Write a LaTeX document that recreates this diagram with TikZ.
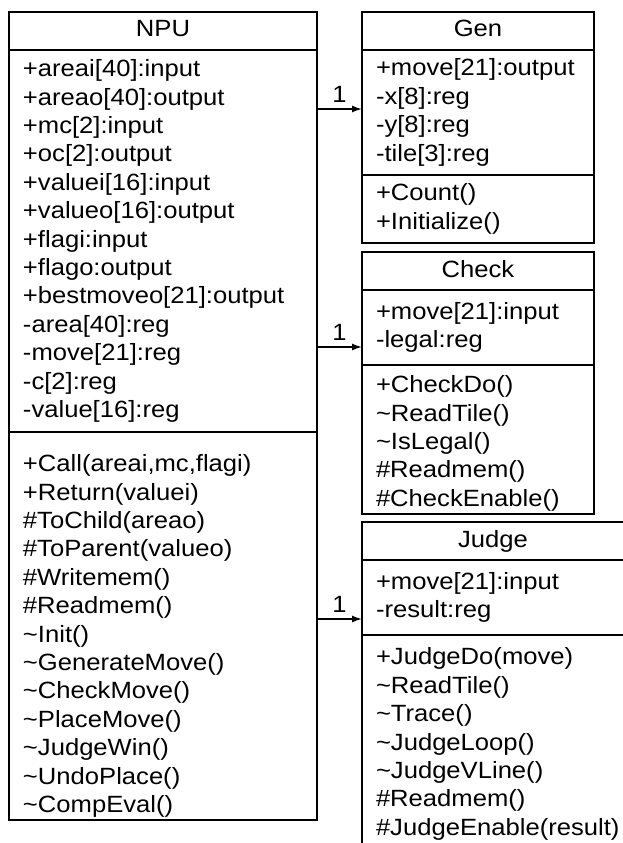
\documentclass[tikz,border=0pt]{standalone}
\usepackage{fontspec}
\setmainfont{Liberation Sans}[FakeStretch=1.09]
\usetikzlibrary{arrows.meta}
\newcommand{\rowfont}{\fontsize{23.5pt}{28.4pt}\selectfont}
\newcommand{\tld}{\textasciitilde}
\newcommand{\npux}{9}
\newcommand{\sidex}{362}

\tikzset{
  classpart/.style={draw, line width=1.8pt, anchor=north west, outer sep=0pt,
    inner xsep=14pt, inner ysep=0pt, align=left, font=\rowfont},
  classtitle/.style={classpart, align=center, text height=17pt, text depth=5pt,
    minimum height=38pt},
  assoc/.style={-{Latex[length=10pt,width=7pt]}, line width=1.5pt},
  mult/.style={above, inner sep=1pt, yshift=5pt, font=\rowfont}
}

\begin{document}
\begin{tikzpicture}[x=1pt, y=-1pt]
    \useasboundingbox (0,0) rectangle (623,843);
    \clip (0,0) rectangle (623,843);

    % npu class
    \node[classtitle, text width=280pt] (npu) at (\npux,12) {NPU};
    \node[classpart, text width=280pt, minimum height=382pt] (npu-attr) at (\npux,50)
      {+areai[40]:input\\ +areao[40]:output\\ +mc[2]:input\\ +oc[2]:output\\
       +valuei[16]:input\\ +valueo[16]:output\\ +flagi:input\\ +flago:output\\
       +bestmoveo[21]:output\\ -area[40]:reg\\ -move[21]:reg\\ -c[2]:reg\\
       -value[16]:reg};
    \node[classpart, text width=280pt, minimum height=388pt] (npu-meth) at (\npux,432)
      {\rule{0pt}{37pt}+Call(areai,mc,flagi)\\ +Return(valuei)\\ \#ToChild(areao)\\
       \#ToParent(valueo)\\ \#Writemem()\\ \#Readmem()\\ \tld Init()\\
       \tld GenerateMove()\\ \tld CheckMove()\\ \tld PlaceMove()\\ \tld JudgeWin()\\
       \tld UndoPlace()\\ \tld CompEval()};

    % gen class
    \node[classtitle, text width=204pt] (gen) at (\sidex,12) {Gen};
    \node[classpart, text width=204pt, minimum height=125pt] (gen-attr) at (\sidex,50)
      {+move[21]:output\\ -x[8]:reg\\ -y[8]:reg\\ -tile[3]:reg};
    \node[classpart, text width=204pt, minimum height=68pt] (gen-meth) at (\sidex,175)
      {+Count()\\ +Initialize()};

    % check class
    \node[classtitle, text width=204pt] (check) at (\sidex,252) {Check};
    \node[classpart, text width=204pt, minimum height=75pt] (check-attr) at (\sidex,290)
      {+move[21]:input\\ -legal:reg};
    \node[classpart, text width=204pt, minimum height=149pt] (check-meth) at (\sidex,365)
      {\rule{0pt}{25pt}+CheckDo()\\ \tld ReadTile()\\ \tld IsLegal()\\ \#Readmem()\\
       \#CheckEnable()};

    % judge class, wider than the page
    \node[classtitle, text width=234pt] (judge) at (\sidex,522) {Judge};
    \node[classpart, text width=250pt, minimum height=75pt] (judge-attr) at (\sidex,560)
      {+move[21]:input\\ -result:reg};
    \node[classpart, text width=250pt, minimum height=218pt] (judge-meth) at (\sidex,635)
      {+JudgeDo(move)\\ \tld ReadTile()\\ \tld Trace()\\ \tld JudgeLoop()\\
       \tld JudgeVLine()\\ \#Readmem()\\ \#JudgeEnable(result)};

    % links from npu
    \coordinate (genlink) at ([yshift=3.5pt]gen-attr.west);
    \coordinate (checklink) at ([yshift=18pt]check-attr.south west);
    \coordinate (judgelink) at ([yshift=16pt]judge-attr.south west);
    \draw[assoc] (npu-attr.east |- genlink) -- node[mult] {1} (genlink);
    \draw[assoc] (npu-attr.east |- checklink) -- node[mult] {1} (checklink);
    \draw[assoc] (npu-meth.east |- judgelink) -- node[mult] {1} (judgelink);
\end{tikzpicture}
\end{document}
